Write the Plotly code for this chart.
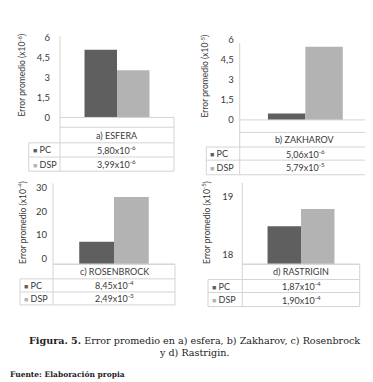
import plotly.graph_objects as go

W, H = 373, 382

# ---------------- data ----------------
categories = ["a) ESFERA", "b) ZAKHAROV", "c) ROSENBROCK", "d) RASTRIGIN"]
series_names = ["PC", "DSP"]
pc_values = [5.1, 0.48, 7.1, 18.49]
dsp_values = [3.55, 5.45, 26.2, 18.79]
pc_labels = ["5,80x10<sup>-6</sup>", "5,06x10<sup>-6</sup>", "8,45x10<sup>-4</sup>", "1,87x10<sup>-4</sup>"]
dsp_labels = ["3,99x10<sup>-6</sup>", "5,79x10<sup>-5</sup>", "2,49x10<sup>-3</sup>", "1,90x10<sup>-4</sup>"]
y_exponents = ["-6", "-5", "-4", "-5"]
y_ticks = [[0, 1.5, 3, 4.5, 6], [0, 1.5, 3, 4.5, 6], [0, 10, 20, 30], [18, 19]]
y_ranges = [[0, 6.2], [0, 6.1], [-2.5, 32], [17.83, 19.24]]

colors = {"PC": "#5f5f5f", "DSP": "#b3b3b3"}
line_col = "#d4d4d4"
txt_col = "#3a3a3a"
FONT = "Lato, Open Sans, sans-serif"

panels = [
    dict(ax=52, rx=166, lx=20.7, top=23.7, bot=108, rows=[118, 134, 148.5, 163], so=9, tx=14, ty=65, vtop=25),
    dict(ax=231.7, rx=363, lx=198.3, top=26.6, bot=110.5, rows=[123.3, 138.3, 151.7, 166.7], so=5, tx=197, ty=66, vtop=31.7),
    dict(ax=45, rx=167, lx=12, top=175.5, bot=258.3, rows=[258.3, 273.3, 286.7, 300], so=5, tx=14, ty=216, vtop=175.5),
    dict(ax=234.3, rx=351.7, lx=200, top=175.1, bot=258.3, rows=[258.3, 274, 287.3, 301.7], so=8, tx=198, ty=216, vtop=175.1),
]


def X(px):
    return px / W


def Y(py):
    return 1 - py / H


fig = go.Figure()
shapes = []
annotations = []


def hline(x0, x1, y):
    shapes.append(dict(type="line", xref="paper", yref="paper", x0=X(x0), x1=X(x1), y0=Y(y), y1=Y(y),
                       line=dict(color=line_col, width=1)))


def vline(x, y0, y1):
    shapes.append(dict(type="line", xref="paper", yref="paper", x0=X(x), x1=X(x), y0=Y(y0), y1=Y(y1),
                       line=dict(color=line_col, width=1)))


def note(text, px, py, size=9, xanchor="center", family=FONT, color=txt_col, angle=0):
    annotations.append(dict(text=text, x=X(px), y=Y(py), xref="paper", yref="paper",
                            xanchor=xanchor, yanchor="middle", showarrow=False, textangle=angle,
                            font=dict(family=family, size=size, color=color)))


layout_axes = {}
for i, p in enumerate(panels):
    n = "" if i == 0 else str(i + 1)
    xa, ya = "x" + n, "y" + n
    base = y_ranges[i][0] if y_ranges[i][0] != 0 else 0
    for s, vals in (("PC", pc_values), ("DSP", dsp_values)):
        fig.add_trace(go.Bar(
            x=[categories[i]], y=[vals[i] - base], base=base, name=s,
            marker=dict(color=colors[s], line=dict(width=0)),
            xaxis=xa, yaxis=ya, showlegend=False, hoverinfo="skip"))
    layout_axes["xaxis" + n] = dict(
        domain=[X(p["ax"]), X(p["rx"])], anchor=ya, showticklabels=False, ticks="",
        showgrid=False, zeroline=False, showline=False, fixedrange=True)
    layout_axes["yaxis" + n] = dict(
        domain=[Y(p["bot"]), Y(p["top"])], anchor=xa, range=y_ranges[i], tickvals=y_ticks[i],
        showgrid=False, zeroline=False, showline=False, ticks="", ticklabelstandoff=p["so"],
        tickfont=dict(family=FONT, size=9.5, color=txt_col), fixedrange=True)

    # axis lines & table grid
    hline(p["ax"], p["rx"], p["bot"])
    vline(p["ax"], p["vtop"], p["rows"][3])
    vline(p["rx"], p["bot"], p["rows"][3])
    hline(p["ax"], p["rx"], p["rows"][0])
    for r in p["rows"][1:]:
        hline(p["lx"], p["rx"], r)
    vline(p["lx"], p["rows"][1], p["rows"][3])

    cx = (p["ax"] + p["rx"]) / 2
    r = p["rows"]
    note(categories[i], cx, (r[0] + r[1]) / 2)
    note(pc_labels[i], cx, (r[1] + r[2]) / 2)
    note(dsp_labels[i], cx, (r[2] + r[3]) / 2)
    for k, s in enumerate(series_names):
        note('<span style="color:%s;font-size:7px">■</span> %s' % (colors[s], s),
             p["lx"] + 2, (r[1 + k] + r[2 + k]) / 2, xanchor="left")
    note("Error promedio (x10<sup>%s</sup>)" % y_exponents[i], p["tx"], p["ty"], size=8.5, angle=-90)

# caption
SERIF = "DejaVu Serif, Liberation Serif, serif"
note("<b>Figura. 5.</b> Error promedio en a) esfera, b) Zakharov, c) Rosenbrock",
     186, 336, size=9.6, family=SERIF, color="#222222")
note("y d) Rastrigin.", 186, 349, size=9.6, family=SERIF, color="#222222")
note("<b>Fuente: Elaboración propia</b>", 0, 371.5, size=7.5, xanchor="left", family=SERIF, color="#222222")

fig.update_layout(
    width=W, height=H, margin=dict(l=0, r=0, t=0, b=0),
    paper_bgcolor="white", plot_bgcolor="white",
    barmode="group", bargap=0.43, bargroupgap=0,
    separators=",.", shapes=shapes, annotations=annotations, **layout_axes)

fig.write_html("out.html")
